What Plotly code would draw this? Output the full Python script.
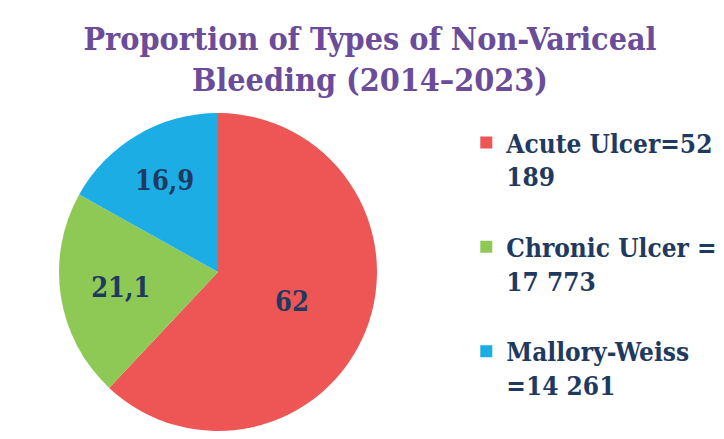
import plotly.graph_objects as go

categories = ["Acute Ulcer", "Chronic Ulcer", "Mallory-Weiss"]
legend_labels = ["Acute Ulcer=52<br>189", "Chronic Ulcer =<br>17 773", "Mallory-Weiss<br>=14 261"]
percent_values = [62, 21.1, 16.9]
colors = ["#EE5555", "#8DC954", "#1DADE5"]

title_text = "Proportion of Types of Non-Variceal<br>Bleeding (2014\u20132023)"

W, H = 724, 439
cx, cy, R = 210, 264, 159

serif = "DejaVu Serif Condensed, DejaVu Serif"

fig = go.Figure(go.Pie(
    labels=[l + "<br> " for l in legend_labels],
    values=percent_values,
    sort=False,
    direction="clockwise",
    rotation=0,
    marker=dict(colors=colors, line=dict(width=0)),
    textinfo="value",
    textposition="inside",
    insidetextorientation="horizontal",
    textfont=dict(family=serif, size=27, color="#1F3A60", weight="bold"),
    domain=dict(x=[(cx - R) / W, (cx + R) / W], y=[(H - cy - R) / H, (H - cy + R) / H]),
    hoverinfo="label+value",
))

fig.update_layout(
    width=W, height=H,
    margin=dict(l=0, r=0, t=0, b=0),
    paper_bgcolor="#FFFFFF",
    separators=", ",
    title=dict(text=title_text, x=0.5, xanchor="center", y=0.905, yanchor="top",
               font=dict(family=serif, size=32, color="#6B4C9A", weight="bold")),
    legend=dict(x=0.633, xanchor="left", y=1 - 111 / H, yanchor="top", valign="top",
                font=dict(family=serif, size=26, color="#1F3A60", weight="bold"),
                bgcolor="rgba(0,0,0,0)", tracegroupgap=0),
    showlegend=True,
)

fig.write_html("out.html")
